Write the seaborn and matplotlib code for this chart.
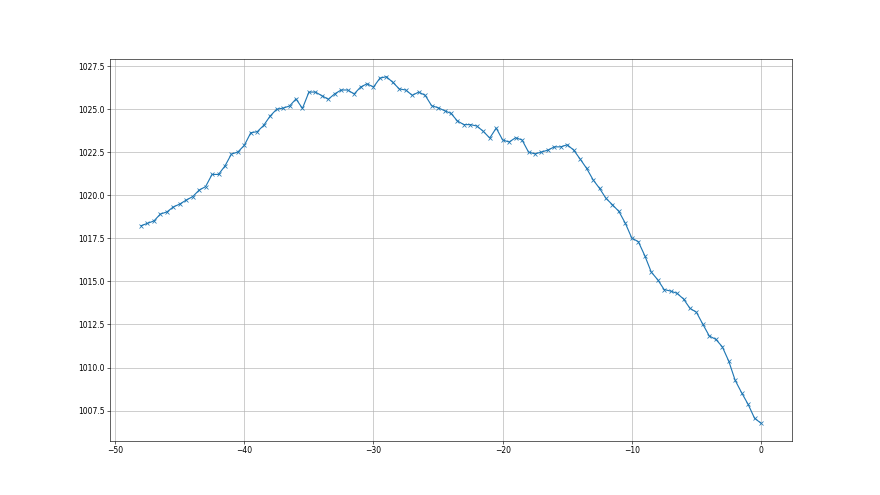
import matplotlib
matplotlib.use("Agg")
import matplotlib.pyplot as plt
import pandas as pd
import seaborn as sns

# hours relative to now
hours = [
    -48.0, -47.5, -47.0, -46.5, -46.0, -45.5, -45.0, -44.5, -44.0, -43.5,
    -43.0, -42.5, -42.0, -41.5, -41.0, -40.5, -40.0, -39.5, -39.0, -38.5,
    -38.0, -37.5, -37.0, -36.5, -36.0, -35.5, -35.0, -34.5, -34.0, -33.5,
    -33.0, -32.5, -32.0, -31.5, -31.0, -30.5, -30.0, -29.5, -29.0, -28.5,
    -28.0, -27.5, -27.0, -26.5, -26.0, -25.5, -25.0, -24.5, -24.0, -23.5,
    -23.0, -22.5, -22.0, -21.5, -21.0, -20.5, -20.0, -19.5, -19.0, -18.5,
    -18.0, -17.5, -17.0, -16.5, -16.0, -15.5, -15.0, -14.5, -14.0, -13.5,
    -13.0, -12.5, -12.0, -11.5, -11.0, -10.5, -10.0, -9.5, -9.0, -8.5,
    -8.0, -7.5, -7.0, -6.5, -6.0, -5.5, -5.0, -4.5, -4.0, -3.5,
    -3.0, -2.5, -2.0, -1.5, -1.0, -0.5, 0.0,
]

pressure = [
    1018.23, 1018.37, 1018.51, 1018.91, 1019.03, 1019.32, 1019.49, 1019.72, 1019.92, 1020.30,
    1020.50, 1021.21, 1021.21, 1021.70, 1022.39, 1022.51, 1022.90, 1023.63, 1023.69, 1024.06,
    1024.60, 1024.99, 1025.06, 1025.18, 1025.59, 1025.04, 1025.99, 1025.99, 1025.78, 1025.57,
    1025.89, 1026.11, 1026.11, 1025.88, 1026.28, 1026.47, 1026.28, 1026.80, 1026.88, 1026.55,
    1026.17, 1026.11, 1025.80, 1025.99, 1025.80, 1025.20, 1025.08, 1024.91, 1024.75, 1024.31,
    1024.10, 1024.10, 1024.02, 1023.71, 1023.32, 1023.90, 1023.21, 1023.09, 1023.34, 1023.21,
    1022.51, 1022.40, 1022.51, 1022.62, 1022.81, 1022.81, 1022.93, 1022.62, 1022.10, 1021.56,
    1020.90, 1020.40, 1019.82, 1019.45, 1019.06, 1018.37, 1017.51, 1017.31, 1016.50, 1015.55,
    1015.10, 1014.53, 1014.44, 1014.31, 1013.98, 1013.44, 1013.21, 1012.51, 1011.83, 1011.64,
    1011.21, 1010.38, 1009.26, 1008.54, 1007.87, 1007.06, 1006.77,
]


def main() -> None:
    df = pd.DataFrame({"hours": hours, "pressure": pressure})

    fig, ax = plt.subplots(figsize=(16, 9), dpi=55)
    sns.lineplot(data=df, x="hours", y="pressure", ax=ax,
                 color="#1f77b4", marker="x", markeredgecolor="#1f77b4",
                 markeredgewidth=1.0, markersize=6, linewidth=1.5)
    ax.grid(True, color="#b0b0b0", linewidth=0.8)
    ax.set_xlabel("")
    ax.set_ylabel("")
    fig.savefig("out.png", dpi=55)


if __name__ == "__main__":
    main()
